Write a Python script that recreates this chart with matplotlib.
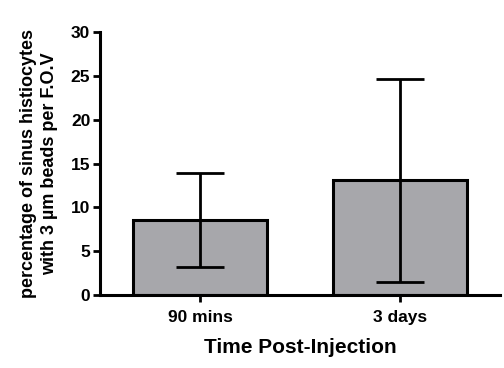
import matplotlib
matplotlib.use("Agg")
import matplotlib.pyplot as plt

categories = ["90 mins", "3 days"]
means = [8.55, 13.15]
err_low = [5.35, 11.65]
err_high = [5.4, 11.5]
yticks = [0, 5, 10, 15, 20, 25, 30]

plt.rcParams['font.family'] = ['Liberation Sans', 'DejaVu Sans']
plt.rcParams['font.weight'] = 'bold'

fig = plt.figure(figsize=(5.04, 3.68), dpi=100)
ax = fig.add_axes([100/504, 1-295/368, 400/504, (295-32)/368])

x = list(range(len(categories)))
ax.bar(x, means, width=0.67, color='#a7a7ab', edgecolor='black', linewidth=2.2, zorder=2)
ax.errorbar(x, means, yerr=[err_low, err_high], fmt='none', ecolor='black',
            elinewidth=2.0, capsize=17, capthick=2.0, zorder=3)

ax.set_xlim(-0.5, 1.5)
ax.set_ylim(0, 30)
ax.set_yticks(yticks)
ax.set_xticks(x)
ax.set_xticklabels(categories)
for s in ['top', 'right']:
    ax.spines[s].set_visible(False)
for s in ['left', 'bottom']:
    ax.spines[s].set_linewidth(2.2)
ax.tick_params(axis='y', direction='out', length=5, width=2, labelsize=12.5, pad=2)
ax.tick_params(axis='x', direction='out', length=5, width=2, labelsize=12.5, pad=6)
for lab in ax.get_xticklabels() + ax.get_yticklabels():
    lab.set_fontweight('bold')

ax.set_xlabel("Time Post-Injection", fontsize=15, fontweight='bold', labelpad=9)
ax.set_ylabel("percentage of sinus histiocytes\nwith 3 µm beads per F.O.V", fontsize=13,
              fontweight='bold', labelpad=9, linespacing=1.3)

fig.savefig("out.png", dpi=100)
